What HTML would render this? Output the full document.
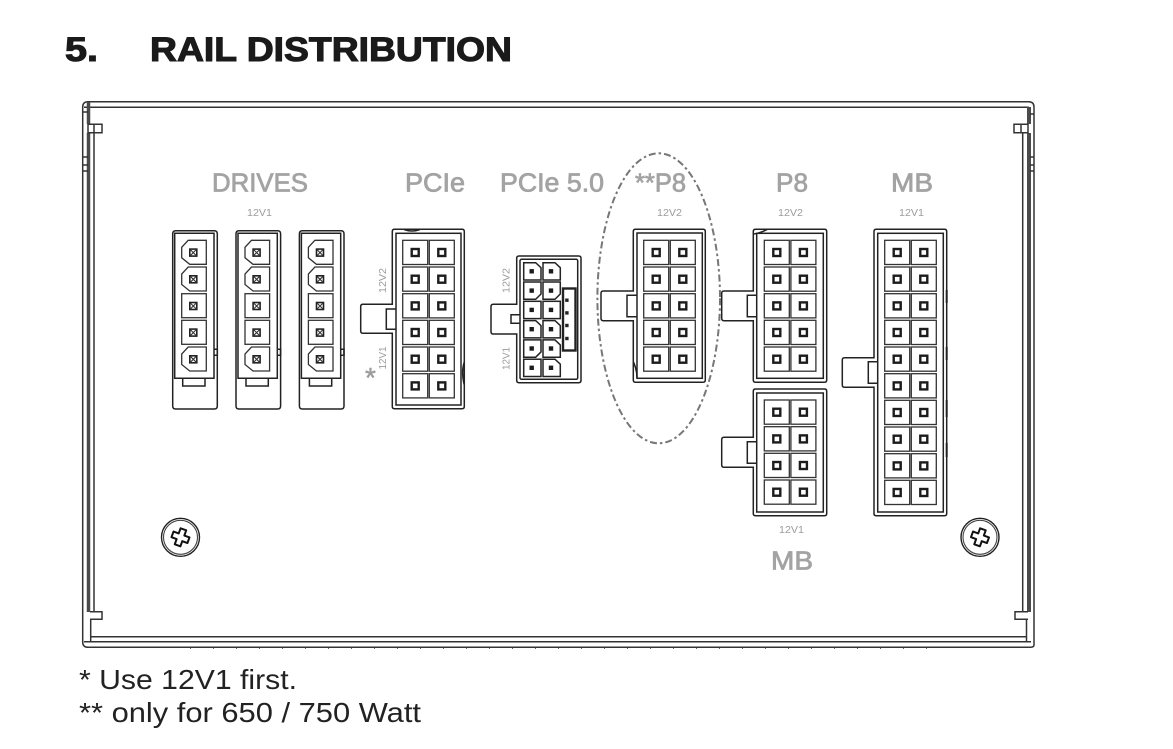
<!DOCTYPE html>
<html>
<head>
<meta charset="utf-8">
<style>
html,body{margin:0;padding:0;background:#fff}
svg{display:block}
text{font-family:"Liberation Sans",sans-serif}
.lab{font-size:25.5px;fill:#a3a3a3;stroke:#a3a3a3;stroke-width:.75}
.sm{font-size:10.5px;fill:#9c9c9c}
.hd{font-size:34px;font-weight:bold;fill:#1a1a1a;stroke:#1a1a1a;stroke-width:1.1}
.fn{font-size:27.5px;fill:#222}
.k{fill:none;stroke:#222;stroke-width:1.5}
.f{fill:none;stroke:#333;stroke-width:1.5}
</style>
</head>
<body>
<svg xmlns="http://www.w3.org/2000/svg" width="1173" height="749" viewBox="0 0 1173 749">
<defs>
  <g id="pair">
    <rect x="0" y="0" width="25" height="24.2" fill="#fff" stroke="#333" stroke-width="1.3"/>
    <rect x="26.6" y="0" width="25" height="24.2" fill="#fff" stroke="#333" stroke-width="1.3"/>
    <rect x="9" y="8.7" width="7" height="7" fill="#fff" stroke="#1c1c1c" stroke-width="2.4"/>
    <rect x="35.6" y="8.7" width="7" height="7" fill="#fff" stroke="#1c1c1c" stroke-width="2.4"/>
  </g>
  <g id="dpin">
    <rect x="-3.5" y="-3.5" width="7" height="7" fill="#fff" stroke="#222" stroke-width="1.6"/>
    <path d="M-3 -3L3 3M3 -3L-3 3" stroke="#333" stroke-width="1.1"/>
  </g>
  <g id="dch">
    <path d="M6.5 0H24.6V24H8L0 17.5V7Z" fill="#fff" stroke="#333" stroke-width="1.3"/>
    <use href="#dpin" x="11.6" y="12.3"/>
  </g>
  <g id="dsq">
    <rect x="0" y="0" width="24.6" height="24" fill="#fff" stroke="#333" stroke-width="1.3"/>
    <use href="#dpin" x="11.6" y="12.3"/>
  </g>
  <g id="drive">
    <path class="k" d="M3 0H41.6Q44.6 0 44.6 3V175.3Q44.6 178.3 41.6 178.3H3Q0 178.3 0 175.3V3Q0 0 3 0Z"/>
    <path class="k" d="M2 2.5H41.3V147.5H2Z"/>
    <path class="k" d="M10 147.5V155.3H32.3V147.5"/>
    <path class="k" d="M41.3 118.5H44.6V124.5H41.3"/>
    <use href="#dch" x="9" y="9.6"/>
    <use href="#dch" x="9" y="36.3"/>
    <use href="#dsq" x="9" y="63"/>
    <use href="#dsq" x="9" y="89.6"/>
    <use href="#dch" x="9" y="116.3"/>
  </g>
  <rect id="p5pin" x="-2.2" y="-2.2" width="4.4" height="4.4" fill="#1c1c1c"/>
  <g id="p5tr"><path d="M0 0H12L17.3 5V17.3H0Z" fill="#fff" stroke="#222" stroke-width="1.5"/><use href="#p5pin" x="8" y="8.6"/></g>
  <g id="p5br"><path d="M0 0H17.3V12L12 17.3H0Z" fill="#fff" stroke="#222" stroke-width="1.5"/><use href="#p5pin" x="8" y="8.6"/></g>
  <g id="p5sq"><rect width="17.3" height="17.3" fill="#fff" stroke="#222" stroke-width="1.5"/><use href="#p5pin" x="8" y="8.6"/></g>
</defs>

<!-- Heading -->
<text class="hd" x="65" y="61" textLength="33" lengthAdjust="spacingAndGlyphs">5.</text>
<text class="hd" x="150" y="61" textLength="362" lengthAdjust="spacingAndGlyphs">RAIL DISTRIBUTION</text>

<!-- Frame -->
<path class="f" d="M88 101.7H1029Q1034 102 1034 107V645Q1034 647.3 1030 647.3H88Q82.7 647.3 82.7 642V107Q82.7 101.7 88 101.7Z"/>
<path class="f" d="M84 107.3H1029"/>
<path class="f" d="M90 636.7H1027M84 641.7H1031"/>
<path d="M88.5 102V124M88.5 133V612" stroke="#4a4a4a" stroke-width="3.5" fill="none"/>
<path d="M1029 107V124M1029 133V612" stroke="#4a4a4a" stroke-width="4" fill="none"/>
<path class="f" d="M94 133V612M1022.7 133V612"/>
<path class="f" d="M90.7 620V642M1026.5 620V642"/>
<path class="f" d="M88 124.3H102V132.7H88ZM94 124.3V132.7"/>
<path class="f" d="M1014 124.3H1028V132.7H1014ZM1021 124.3V132.7"/>
<path class="f" d="M90 611.7H102V619.3H90"/>
<path class="f" d="M1028 611.7H1015V619.3H1028"/>
<path class="f" d="M82.7 157H88M82.7 165H88M82.7 171H88M1030 157H1034M1030 165H1034M1030 171H1034M82.7 112H88M1030 114H1034"/>
<path d="M190 648.5H930" stroke="#666" stroke-width="1" stroke-dasharray="1 22" fill="none"/>

<!-- Screws -->
<g transform="translate(180.5,537.3)">
  <circle r="19" fill="#fff" stroke="#222" stroke-width="1.4"/>
  <circle r="17" fill="none" stroke="#444" stroke-width="1.1"/>
  <path transform="rotate(20)" d="M-3 -8.5H3V-3H8.5V3H3V8.5H-3V3H-8.5V-3H-3Z" fill="#fff" stroke="#111" stroke-width="2" stroke-linejoin="round"/>
</g>
<g transform="translate(980,537.3)">
  <circle r="19" fill="#fff" stroke="#222" stroke-width="1.4"/>
  <circle r="17" fill="none" stroke="#444" stroke-width="1.1"/>
  <path transform="rotate(20)" d="M-3 -8.5H3V-3H8.5V3H3V8.5H-3V3H-8.5V-3H-3Z" fill="#fff" stroke="#111" stroke-width="2" stroke-linejoin="round"/>
</g>

<!-- Drives -->
<use href="#drive" x="172.7" y="230.7"/>
<use href="#drive" x="236" y="230.7"/>
<use href="#drive" x="299.4" y="230.7"/>

<!-- PCIe -->
<path class="k" d="M394.5 229.3H462Q464.3 229.3 464.3 231.5V406.5Q464.3 408.7 462 408.7H394.5Q392.3 408.7 392.3 406.5V333.3H363Q360.7 333.3 360.7 331V306.5Q360.7 304.3 363 304.3H392.3V231.5Q392.3 229.3 394.5 229.3Z"/>
<rect class="k" x="396" y="233.3" width="65" height="171.7"/>
<path class="k" d="M396 309H386.3V329.3H396"/>
<path class="k" d="M404 229.5Q412 232.5 420 229.5M464.3 362Q461 372 464.3 385"/>
<use href="#pair" x="402.7" y="240.3"/>
<use href="#pair" x="402.7" y="267"/>
<use href="#pair" x="402.7" y="293.7"/>
<use href="#pair" x="402.7" y="320.3"/>
<use href="#pair" x="402.7" y="347"/>
<use href="#pair" x="402.7" y="373.7"/>

<!-- PCIe 5.0 -->
<path class="k" d="M519 256H578.7Q581 256 581 258.3V380.4Q581 382.7 578.7 382.7H519Q516.7 382.7 516.7 380.4V334H493.3Q491 334 491 331.7V306.6Q491 304.3 493.3 304.3H516.7V258.3Q516.7 256 519 256Z"/>
<rect class="k" x="520" y="259.3" width="57.7" height="120" rx="1.5"/>
<path class="k" d="M520 314.7H511V323.3H520"/>
<use href="#p5tr" x="523.7" y="262.7"/><use href="#p5tr" x="543" y="262.7"/>
<use href="#p5br" x="523.7" y="282"/><use href="#p5br" x="543" y="282"/>
<use href="#p5sq" x="523.7" y="301.3"/><use href="#p5sq" x="543" y="301.3"/>
<use href="#p5tr" x="523.7" y="320.6"/><use href="#p5tr" x="543" y="320.6"/>
<use href="#p5br" x="523.7" y="339.9"/><use href="#p5tr" x="543" y="339.9"/>
<use href="#p5sq" x="523.7" y="359.2"/><use href="#p5tr" x="543" y="359.2"/>
<rect x="563" y="288.5" width="12.5" height="62" fill="#fff" stroke="#222" stroke-width="2.4"/>
<rect x="565.2" y="298.5" width="3.4" height="3.4" fill="#222"/>
<rect x="565.2" y="311.2" width="3.4" height="3.4" fill="#222"/>
<rect x="565.2" y="323.8" width="3.4" height="3.4" fill="#222"/>
<rect x="565.2" y="336.8" width="3.4" height="3.4" fill="#222"/>

<!-- P8 circled -->
<path class="k" d="M635.5 229.3H703Q705.3 229.3 705.3 231.5V380Q705.3 382.3 703 382.3H635.5Q633.3 382.3 633.3 380V320.7H603.3Q601 320.7 601 318.4V293.3Q601 291 603.3 291H633.3V231.5Q633.3 229.3 635.5 229.3Z"/>
<rect class="k" x="637" y="233" width="65.3" height="145.3"/>
<path class="k" d="M637 295.3H627V316.7H637"/>
<path class="k" d="M633.5 362Q637 370 637 378"/>
<use href="#pair" x="643.7" y="240.3"/>
<use href="#pair" x="643.7" y="267"/>
<use href="#pair" x="643.7" y="293.7"/>
<use href="#pair" x="643.7" y="320.3"/>
<use href="#pair" x="643.7" y="347"/>
<ellipse cx="658.7" cy="298.3" rx="61.3" ry="145" fill="none" stroke="#777" stroke-width="2" stroke-dasharray="7 3 2.5 3"/>

<!-- P8 right -->
<path class="k" d="M755.5 229.3H824.5Q826.7 229.3 826.7 231.5V380Q826.7 382.3 824.5 382.3H755.5Q753.3 382.3 753.3 380V320.7H724Q721.7 320.7 721.7 318.4V293.3Q721.7 291 724 291H753.3V231.5Q753.3 229.3 755.5 229.3Z"/>
<rect class="k" x="756.7" y="233.3" width="66.6" height="145"/>
<path class="k" d="M756.7 295.3H747.3V316.7H756.7"/>
<path class="k" d="M754 234Q760 233 767 229.6"/>
<use href="#pair" x="764.3" y="240.3"/>
<use href="#pair" x="764.3" y="267"/>
<use href="#pair" x="764.3" y="293.7"/>
<use href="#pair" x="764.3" y="320.3"/>
<use href="#pair" x="764.3" y="347"/>

<!-- MB lower -->
<path class="k" d="M755.5 389H824.5Q826.7 389 826.7 391.2V513.5Q826.7 515.7 824.5 515.7H755.5Q753.3 515.7 753.3 513.5V467.3H724Q721.7 467.3 721.7 465V439.6Q721.7 437.3 724 437.3H753.3V391.2Q753.3 389 755.5 389Z"/>
<rect class="k" x="756.7" y="393" width="66.6" height="119"/>
<path class="k" d="M756.7 441.7H747.3V463.3H756.7"/>
<use href="#pair" x="764.3" y="400"/>
<use href="#pair" x="764.3" y="426.7"/>
<use href="#pair" x="764.3" y="453.3"/>
<use href="#pair" x="764.3" y="480"/>

<!-- MB right -->
<path class="k" d="M876.2 229.3H944.5Q946.7 229.3 946.7 231.5V513.5Q946.7 515.7 944.5 515.7H876.2Q874 515.7 874 513.5V387.3H844.6Q842.3 387.3 842.3 385V360Q842.3 357.7 844.6 357.7H874V231.5Q874 229.3 876.2 229.3Z"/>
<rect class="k" x="877.7" y="233.3" width="65.6" height="278.7"/>
<path class="k" d="M877.7 361.7H868.3V383.3H877.7"/>
<path d="M946.7 290V303M946.7 347V360M946.7 400V417M946.7 443V457" stroke="#222" stroke-width="2" fill="none"/>
<use href="#pair" x="884.7" y="240.3"/>
<use href="#pair" x="884.7" y="267"/>
<use href="#pair" x="884.7" y="293.7"/>
<use href="#pair" x="884.7" y="320.3"/>
<use href="#pair" x="884.7" y="347"/>
<use href="#pair" x="884.7" y="373.7"/>
<use href="#pair" x="884.7" y="400.3"/>
<use href="#pair" x="884.7" y="427"/>
<use href="#pair" x="884.7" y="453.7"/>
<use href="#pair" x="884.7" y="480.3"/>

<!-- Labels -->
<text class="lab" x="212" y="191.5" textLength="96" lengthAdjust="spacingAndGlyphs">DRIVES</text>
<text class="lab" x="405" y="191.5" textLength="60" lengthAdjust="spacingAndGlyphs">PCIe</text>
<text class="lab" x="500" y="191.5" textLength="104" lengthAdjust="spacingAndGlyphs">PCIe 5.0</text>
<text class="lab" x="635" y="191.5" textLength="51" lengthAdjust="spacingAndGlyphs">**P8</text>
<text class="lab" x="776" y="191.5" textLength="32" lengthAdjust="spacingAndGlyphs">P8</text>
<text class="lab" x="891" y="191.5" textLength="42" lengthAdjust="spacingAndGlyphs">MB</text>
<text class="lab" x="771" y="569.5" textLength="42" lengthAdjust="spacingAndGlyphs">MB</text>
<text class="sm" x="247" y="216" textLength="25" lengthAdjust="spacingAndGlyphs">12V1</text>
<text class="sm" x="657" y="216" textLength="25" lengthAdjust="spacingAndGlyphs">12V2</text>
<text class="sm" x="778" y="216" textLength="25" lengthAdjust="spacingAndGlyphs">12V2</text>
<text class="sm" x="899" y="216" textLength="25" lengthAdjust="spacingAndGlyphs">12V1</text>
<text class="sm" x="779" y="533" textLength="25" lengthAdjust="spacingAndGlyphs">12V1</text>
<text class="sm" transform="translate(386,293) rotate(-90)" textLength="25" lengthAdjust="spacingAndGlyphs">12V2</text>
<text class="sm" transform="translate(386,369.5) rotate(-90)" textLength="23" lengthAdjust="spacingAndGlyphs">12V1</text>
<text class="sm" transform="translate(509.5,293) rotate(-90)" textLength="25" lengthAdjust="spacingAndGlyphs">12V2</text>
<text class="sm" transform="translate(509.5,370) rotate(-90)" textLength="23" lengthAdjust="spacingAndGlyphs">12V1</text>
<text x="365" y="387" font-size="28" fill="#9c9c9c" stroke="#9c9c9c" stroke-width=".5">*</text>

<!-- Footnotes -->
<text class="fn" x="79" y="689" textLength="218" lengthAdjust="spacingAndGlyphs">* Use 12V1 first.</text>
<text class="fn" x="79" y="722" textLength="342" lengthAdjust="spacingAndGlyphs">** only for 650 / 750 Watt</text>
</svg>
</body>
</html>
